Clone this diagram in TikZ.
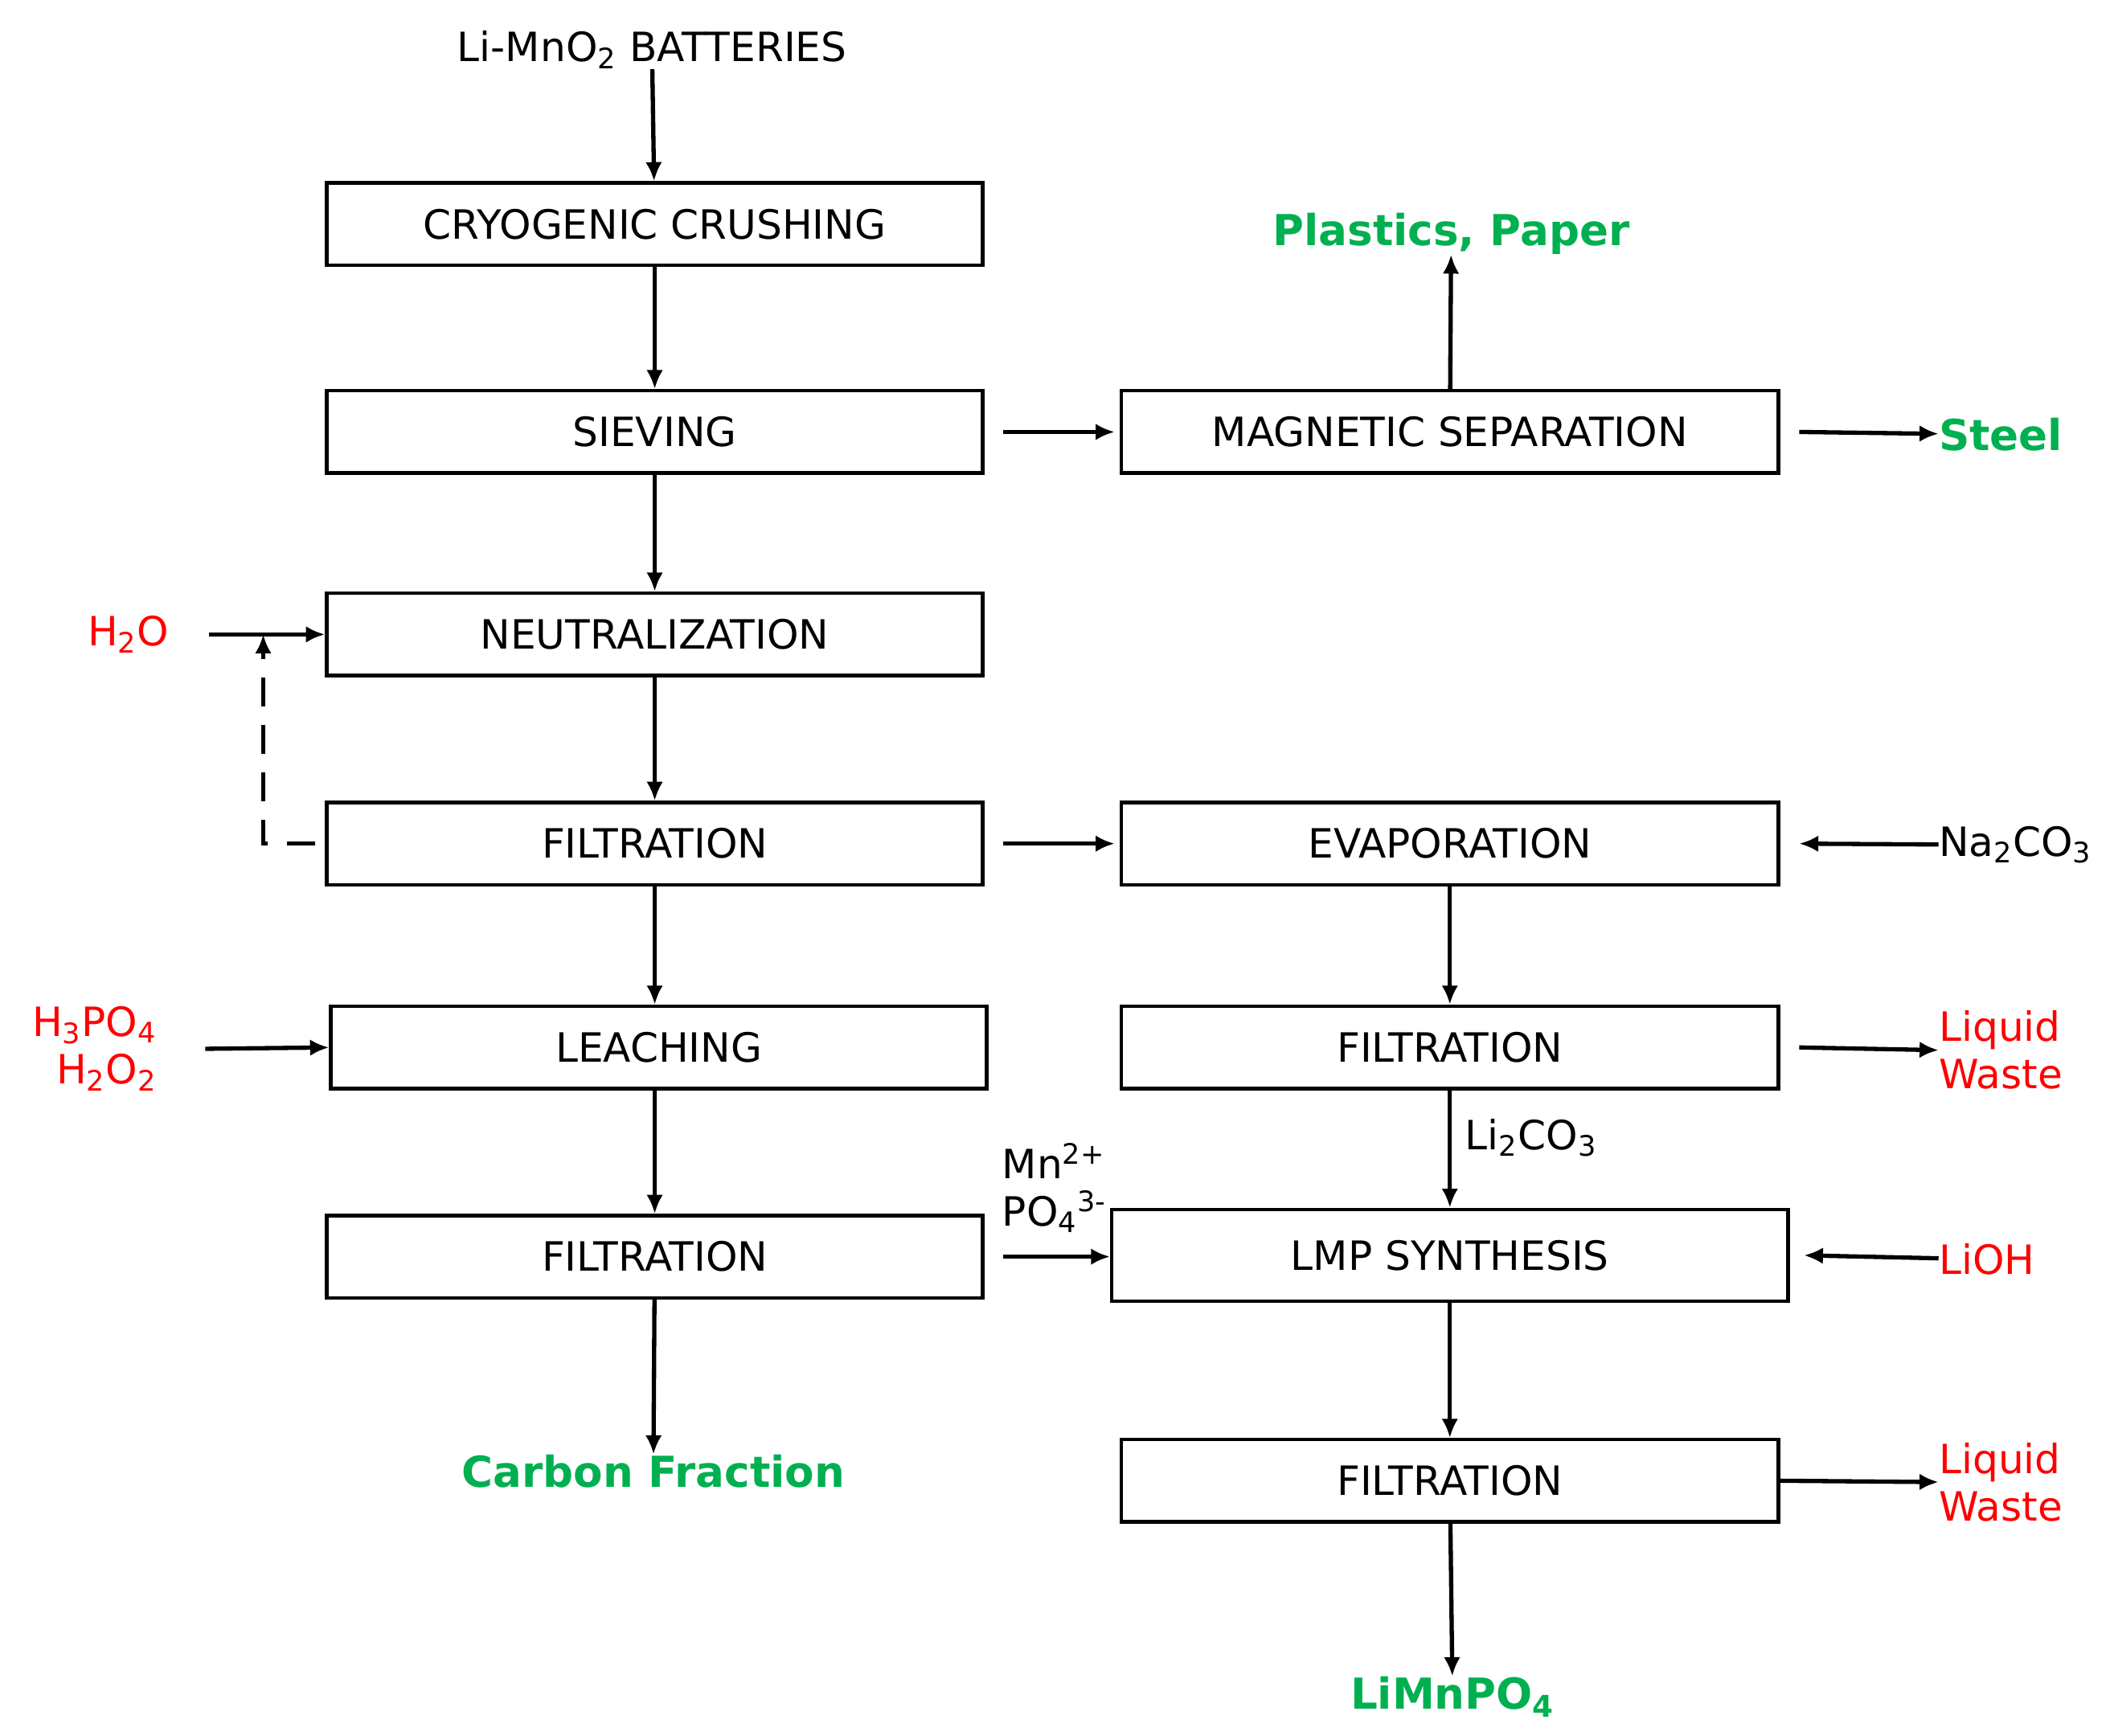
\documentclass[tikz,border=0pt]{standalone}
\usepackage{fontspec}
\setmainfont{DejaVu Sans}
\usetikzlibrary{arrows.meta}
\definecolor{grn}{HTML}{00B050}
\definecolor{rd}{HTML}{FF0000}
\begin{document}
\begin{tikzpicture}[x=0.02cm,y=-0.02cm,
 box/.style={draw,line width=1.5pt,minimum height=1.22cm,inner sep=0pt,font=\fontsize{17}{20}\selectfont},
 L/.style={box,minimum width=9.72cm},
 R/.style={box,minimum width=9.74cm},
 a/.style={-{Latex[length=8pt,width=7pt]},line width=1.8pt},
 t/.style={font=\fontsize{17}{20}\selectfont,inner sep=0pt},
 g/.style={t,text=grn,font=\fontsize{18}{21}\selectfont\bfseries},
 r/.style={t,text=rd}]
\useasboundingbox (0,0) rectangle (1563,1286);
\node[t] (top) at (483,37) {Li-MnO\textsubscript{2} BATTERIES};
\node[L] (cryo) at (485,166) {CRYOGENIC CRUSHING};
\node[L] (siev) at (485,320) {SIEVING};
\node[L] (neut) at (485,470) {NEUTRALIZATION};
\node[L] (f1) at (485,625) {FILTRATION};
\node[L] (leach) at (488,776) {LEACHING};
\node[L] (f2) at (485,931) {FILTRATION};
\node[R] (mag) at (1074,320) {MAGNETIC SEPARATION};
\node[R] (evap) at (1074,625) {EVAPORATION};
\node[R] (f3) at (1074,776) {FILTRATION};
\node[box,minimum width=10.02cm,minimum height=1.36cm] (lmp) at (1074,930) {LMP SYNTHESIS};
\node[R] (f4) at (1074,1097) {FILTRATION};
\node[g] (carb) at (484,1090) {Carbon Fraction};
\node[g] (plas) at (1075,173) {Plastics, Paper};
\node[g,anchor=west] (steel) at (1436,322) {Steel};
\node[t,anchor=west] (na) at (1436,626) {Na\textsubscript{2}CO\textsubscript{3}};
\node[r,anchor=west,align=left] (lw1) at (1436,778) {Liquid\\Waste};
\node[r,anchor=west] (lioh) at (1436,933) {LiOH};
\node[r,anchor=west,align=left] (lw2) at (1436,1098) {Liquid\\Waste};
\node[g] (limn) at (1076,1257) {LiMnPO\textsubscript{4}};
\node[r] (h2o) at (95,470) {H\textsubscript{2}O};
\node[r,align=right] (acid) at (70,777) {H\textsubscript{3}PO\textsubscript{4}\\H\textsubscript{2}O\textsubscript{2}};
\node[t,anchor=west] (li2) at (1085,843) {Li\textsubscript{2}CO\textsubscript{3}};
\node[t,anchor=west,align=left] (mn) at (742,880) {Mn\textsuperscript{2+}\\PO\textsubscript{4}\textsuperscript{3-}};
\draw[a] (top) -- (cryo);
\draw[a] (cryo) -- (siev);
\draw[a] (siev) -- (neut);
\draw[a] (neut) -- (f1);
\draw[a] (f1.south) -- (f1.south|-leach.north);
\draw[a] (f2.north|-leach.south) -- (f2);
\draw[a] (f2) -- (carb);
\draw[a] ([xshift=8pt]siev.east) -- ([xshift=-2pt]mag.west);
\draw[a] (mag) -- (plas);
\draw[a] ([xshift=8pt]mag.east) -- (steel);
\draw[a] ([xshift=8pt]f1.east) -- ([xshift=-2pt]evap.west);
\draw[a] (na) -- ([xshift=8pt]evap.east);
\draw[a] (evap) -- (f3);
\draw[a] ([xshift=8pt]f3.east) -- (lw1.west);
\draw[a] (f3) -- (lmp);
\draw[a] (lioh) -- ([xshift=6pt]lmp.east);
\draw[a] ([xshift=8pt]f2.east) -- (lmp.west|-f2.east);
\draw[a] (lmp) -- (f4);
\draw[a] (f4.east) -- (lw2.west);
\draw[a] (f4) -- (limn);
\draw[a] (155,470) -- (neut.west);
\draw[a] (152,777) -- (leach.west);
\draw[a,dashed,dash pattern=on 12pt off 8pt] ([xshift=-4pt]f1.west) -- (195,625) -- (195,470);
\end{tikzpicture}
\end{document}
